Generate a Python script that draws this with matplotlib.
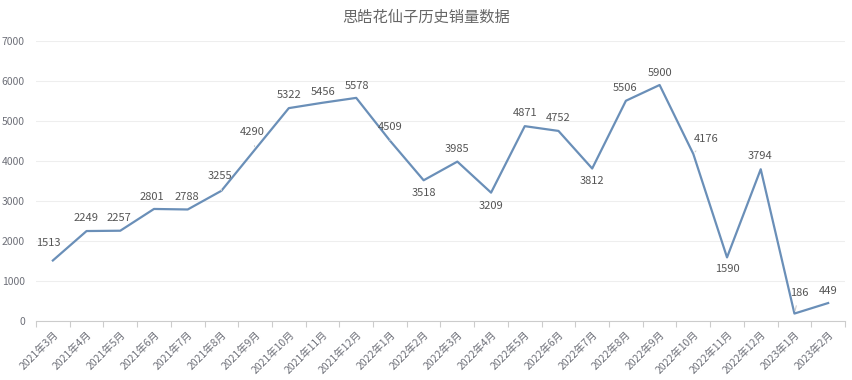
import matplotlib
matplotlib.use('Agg')
import matplotlib.pyplot as plt

plt.rcParams['font.family'] = ['Noto Sans CJK SC', 'DejaVu Sans']

# 月份
months = ['2021年3月', '2021年4月', '2021年5月', '2021年6月', '2021年7月', '2021年8月',
          '2021年9月', '2021年10月', '2021年11月', '2021年12月', '2022年1月', '2022年2月',
          '2022年3月', '2022年4月', '2022年5月', '2022年6月', '2022年7月', '2022年8月',
          '2022年9月', '2022年10月', '2022年11月', '2022年12月', '2023年1月', '2023年2月']
# 销量
sales = [1513, 2249, 2257, 2801, 2788, 3255, 4290, 5322, 5456, 5578, 4509, 3518,
         3985, 3209, 4871, 4752, 3812, 5506, 5900, 4176, 1590, 3794, 186, 449]

# ラベルのずらし量 (pixel)
label_offsets = [(-5, 17), (-1, 13), (-1, 13), (-2, 12), (-1, 12), (-1, 15),
                 (-3, 17), (0, 13), (1, 11), (1, 12), (0, 14), (0, -13),
                 (0, 13), (0, -13), (0, 13), (0, 13), (0, -12), (-1, 13),
                 (0, 12), (13, 15), (0, -12), (-1, 13), (5, 21), (0, 12)]
leader = {5, 6, 10, 19, 22}

line_color = '#6a8fb8'
text_color = '#555555'
axis_color = '#6e7079'

fig = plt.figure(figsize=(8.52, 3.8), dpi=100)
ax = fig.add_axes([36 / 852, 59 / 380, 809 / 852, 280 / 380])

x = list(range(len(months)))
ax.plot(x, sales, color=line_color, linewidth=1.6)

for i, v in enumerate(sales):
    dx, dy = label_offsets[i]
    kw = {}
    if i in leader:
        kw['arrowprops'] = dict(arrowstyle='-', color='#cccccc', linewidth=0.8,
                                shrinkA=4, shrinkB=2)
    ax.annotate(str(v), (i, v), xytext=(dx, dy), textcoords='offset pixels',
                ha='center', va='center', fontsize=8, color=text_color, **kw)

# 軸
ax.set_xlim(-0.5, len(months) - 0.5)
ax.set_ylim(0, 7000)
ax.set_yticks(range(0, 7001, 1000))
ax.grid(axis='y', color='#eeeeee', linewidth=0.8)
ax.set_axisbelow(True)

ax.set_xticks(x)
ax.set_xticklabels(months, rotation=45, ha='right', rotation_mode='anchor',
                   fontsize=7.5, color=axis_color)
ax.tick_params(axis='x', which='major', length=0, pad=6)
ax.set_xticks([i - 0.5 for i in range(len(months) + 1)], minor=True)
ax.tick_params(axis='x', which='minor', length=4, color='#cccccc', width=0.8)
ax.tick_params(axis='y', length=0, labelsize=7.5, labelcolor=axis_color, pad=8)

for s in ['top', 'right', 'left']:
    ax.spines[s].set_visible(False)
ax.spines['bottom'].set_color('#cccccc')
ax.spines['bottom'].set_linewidth(0.8)

fig.text(0.5, 1 - 17 / 380, '思皓花仙子历史销量数据', ha='center', va='center',
         fontsize=11, color='#666666')

fig.savefig('out.png', dpi=100)
plt.close('all')
